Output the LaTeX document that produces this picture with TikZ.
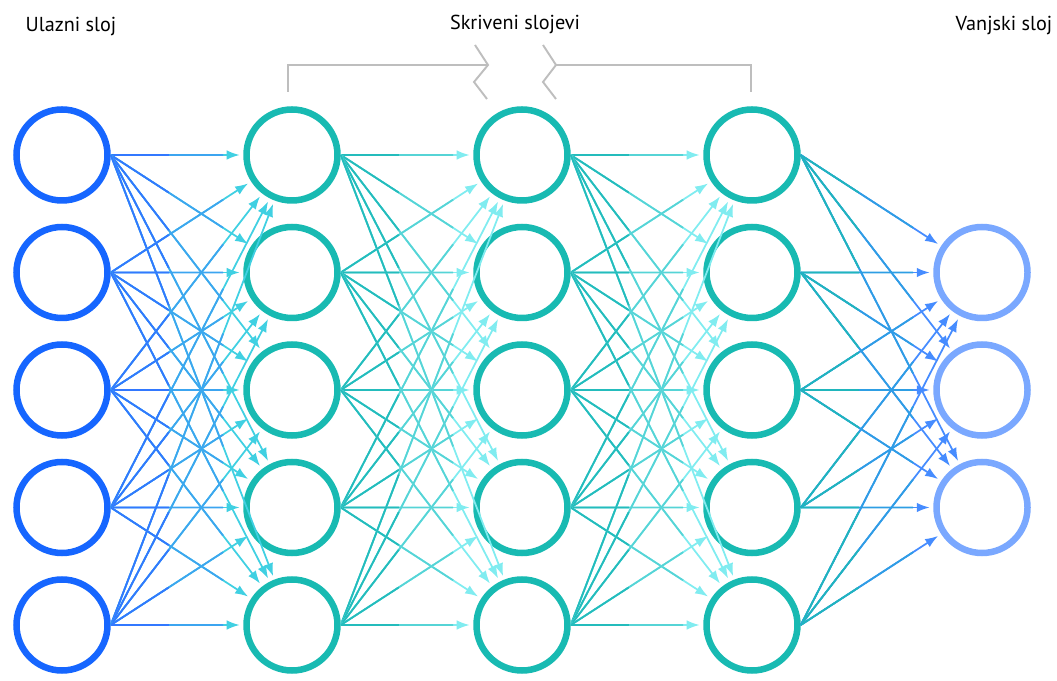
\documentclass[tikz,border=0pt]{standalone}
\usepackage{fontspec}
\setmainfont{PT Sans}
\usetikzlibrary{arrows.meta,calc}

\definecolor{inblue}{RGB}{22,102,255}
\definecolor{hidteal}{RGB}{24,186,178}
\definecolor{outblue}{RGB}{122,168,255}
\definecolor{bracketgray}{RGB}{190,190,190}
% edge colours: start, middle, end
\definecolor{inA}{RGB}{50,120,255}
\definecolor{inM}{RGB}{60,165,240}
\definecolor{inB}{RGB}{64,208,226}
\definecolor{hidA}{RGB}{36,188,188}
\definecolor{hidM}{RGB}{86,212,214}
\definecolor{hidB}{RGB}{128,236,240}
\definecolor{outA}{RGB}{32,182,188}
\definecolor{outM}{RGB}{46,158,228}
\definecolor{outB}{RGB}{70,140,255}

\tikzstyle{neuron} = [circle, draw, line width=0.13cm, minimum size=1.82cm, inner sep=0pt]
\tikzstyle{inneuron} = [neuron, draw=inblue]
\tikzstyle{hidneuron} = [neuron, draw=hidteal]
\tikzstyle{outneuron} = [neuron, draw=outblue]
\tikzstyle{edge} = [line width=1pt, -{Latex[length=2.6mm,width=1.9mm]}, shorten >=2pt]
\tikzstyle{seg} = [line width=1pt]
\tikzstyle{layerlabel} = [font=\fontsize{11.5}{13}\selectfont]
\tikzstyle{bracket} = [bracketgray, line width=1.1pt]

\begin{document}
\begin{tikzpicture}

	\useasboundingbox (0,0) rectangle (21.14,13.6);

	% layers
	\foreach \y [count=\i] in {10.5,8.15,5.8,3.45,1.1} {
		\node (in\i) [inneuron] at (1.24,\y) {};
		\node (ha\i) [hidneuron] at (5.84,\y) {};
		\node (hb\i) [hidneuron] at (10.44,\y) {};
		\node (hc\i) [hidneuron] at (15.04,\y) {};
	}
	\foreach \y [count=\i] in {8.15,5.8,3.45}
		\node (out\i) [outneuron] at (19.64,\y) {};

	% labels
	\node (inlabel) [layerlabel] at (1.42,13.08) {Ulazni sloj};
	\node (hidlabel) [layerlabel] at (10.3,13.12) {Skriveni slojevi};
	\node (outlabel) [layerlabel] at (20.08,13.1) {Vanjski sloj};

	% bracket over the hidden layers
	\draw [bracket] (5.76,11.76) -- (5.76,12.3) -- (9.76,12.3);
	\draw [bracket] (9.5,12.7) -- (9.76,12.3) -- (9.48,11.96) -- (9.74,11.62);
	\draw [bracket] (10.86,12.7) -- (11.12,12.3) -- (10.86,11.96) -- (11.12,11.62);
	\draw [bracket] (11.12,12.3) -- (15.02,12.3) -- (15.02,11.76);

	% input -> first hidden
	\foreach \i in {1,...,5}
		\foreach \j in {1,...,5} {
			\draw [edge, inB] (in\i.east) -- (ha\j);
			\draw [seg, inM] (in\i.east) -- ($(in\i.east)!0.62!(ha\j)$);
			\draw [seg, inA] (in\i.east) -- ($(in\i.east)!0.32!(ha\j)$);
		}

	% hidden -> hidden
	\foreach \a/\b in {ha/hb, hb/hc}
		\foreach \i in {1,...,5}
			\foreach \j in {1,...,5} {
				\draw [edge, hidB] (\a\i.east) -- (\b\j);
				\draw [seg, hidM] (\a\i.east) -- ($(\a\i.east)!0.62!(\b\j)$);
				\draw [seg, hidA] (\a\i.east) -- ($(\a\i.east)!0.32!(\b\j)$);
			}

	% last hidden -> output
	\foreach \i in {1,...,5}
		\foreach \j in {1,...,3} {
			\draw [edge, outB] (hc\i.east) -- (out\j);
			\draw [seg, outM] (hc\i.east) -- ($(hc\i.east)!0.62!(out\j)$);
			\draw [seg, outA] (hc\i.east) -- ($(hc\i.east)!0.32!(out\j)$);
		}

\end{tikzpicture}
\end{document}
